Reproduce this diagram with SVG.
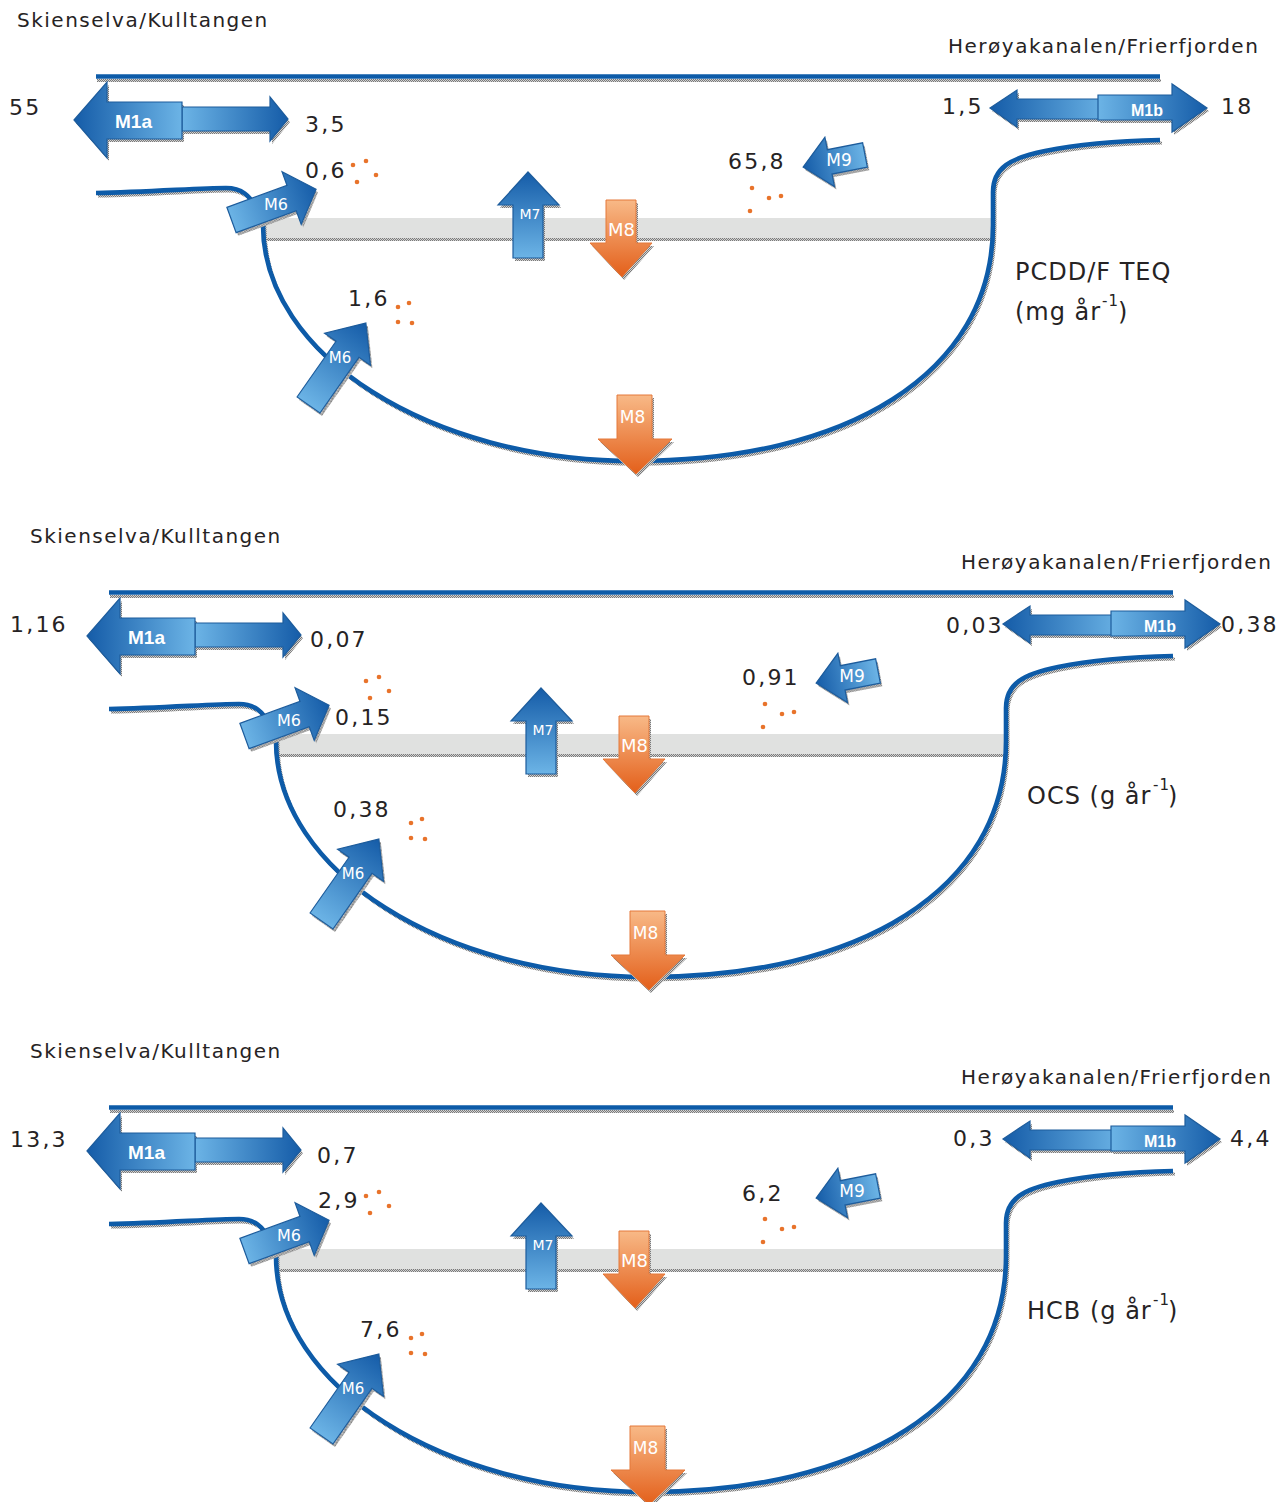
<svg xmlns="http://www.w3.org/2000/svg" xmlns:xlink="http://www.w3.org/1999/xlink" width="1287" height="1502" viewBox="0 0 1287 1502">
<style>
.ln{fill:none;stroke:#0d5ba8;stroke-width:4.6;stroke-linejoin:round;stroke-linecap:butt}
.lns{fill:none;stroke:url(#chk);stroke-width:3}
.sh{fill:url(#chk);stroke:none}
.ab{stroke:#1d5c9c;stroke-width:1.2}
.ao{stroke:#e4783a;stroke-width:1}
.t{font-family:"DejaVu Sans","Liberation Sans",sans-serif;fill:#262324}
.hdr{font-size:20px;letter-spacing:1.5px}
.num{font-size:22px;letter-spacing:2.2px}
.unit{font-size:24px;letter-spacing:1px}
.sup{font-size:15px}
.lb{font-family:"DejaVu Sans",sans-serif;fill:#fff;text-anchor:middle}
.lbb{font-family:"Liberation Sans",Arial,sans-serif;font-weight:bold;fill:#fff;text-anchor:middle}
.dot{fill:#e8732b}
</style>
<defs>
<pattern id="chk" width="2" height="2" patternUnits="userSpaceOnUse"><rect width="2" height="2" fill="#d2d2d2"/><rect width="1" height="1" fill="#7a7a7a"/><rect x="1" y="1" width="1" height="1" fill="#7a7a7a"/></pattern>
<linearGradient id="gB" x1="0" y1="0" x2="1" y2="0"><stop offset="0" stop-color="#6cb4e6"/><stop offset="1" stop-color="#155ca8"/></linearGradient>
<linearGradient id="gBL" x1="1" y1="0" x2="0" y2="0"><stop offset="0" stop-color="#6cb4e6"/><stop offset="1" stop-color="#155ca8"/></linearGradient>
<linearGradient id="gBU" x1="0" y1="1" x2="0" y2="0"><stop offset="0" stop-color="#6cb4e6"/><stop offset="1" stop-color="#155ca8"/></linearGradient>
<linearGradient id="gO" x1="0" y1="0" x2="0" y2="1"><stop offset="0" stop-color="#f8b987"/><stop offset="1" stop-color="#e35f1a"/></linearGradient>

<polygon id="s-m1a-r" points="182,107 270,107 270,97 288,119 270,141 270,131 182,131"/>
<polygon id="s-m1a-l" points="74,120 107,82 107,102 182,102 182,139 107,139 107,158"/>
<polygon id="s-m1b-l" points="990,108 1017,90 1017,99 1110,99 1110,119 1017,119 1017,127"/>
<polygon id="s-m1b-r" points="1098,95 1172,95 1172,84 1207,108 1172,132 1172,120 1098,120"/>
<polygon id="s-m6a" transform="translate(231.5,220) rotate(-20)" points="0,-13.5 64,-13.5 64,-28 90,0 64,28 64,13.5 0,13.5"/>
<polygon id="s-m6b" transform="translate(308.5,405) rotate(-55)" points="0,-14 68,-14 68,-28 100,0 68,28 68,14 0,14"/>
<polygon id="s-m7" points="513,258 543,258 543,205 559,205 528,172 498,205 513,205"/>
<polygon id="s-m8a" points="606,200 636,200 636,243 652,243 622,277 590,243 606,243"/>
<polygon id="s-m8b" points="617,395 652,395 652,439 672,439 636,474 598,439 617,439"/>
<polygon id="s-m9" transform="translate(865,155) rotate(169)" points="0,-12.4 36,-12.4 36,-25 63,0 36,25 36,12.4 0,12.4"/>

<path id="s-water" d="M96,193 C150,192 200,188 226,188 C242,188 250,196 256,208 C260,216 263,220 263,225 C263,355 430,461 635,461 C845,461 993,375 993,225 L993,192 C993,168 1010,158 1045,151 C1080,144 1120,141 1160,140"/>

<g id="base">
  <path class="lns" d="M97,80.5 H1161"/>
  <path class="ln" d="M96,76.5 H1160"/>
  <rect x="265" y="238" width="728" height="3" fill="url(#chk)"/>
  <rect x="263" y="218" width="730" height="20" fill="#e0e1e0"/>
  <use xlink:href="#s-water" class="lns" transform="translate(2,3)"/>
  <use xlink:href="#s-water" class="ln"/>
  <g id="dots">
    <circle class="dot" cx="353" cy="165" r="2.3"/><circle class="dot" cx="366" cy="161" r="2.3"/><circle class="dot" cx="376" cy="175" r="2.3"/><circle class="dot" cx="357" cy="182" r="2.3"/>
    <circle class="dot" cx="752" cy="188" r="2.3"/><circle class="dot" cx="769" cy="198" r="2.3"/><circle class="dot" cx="781" cy="196" r="2.3"/><circle class="dot" cx="750" cy="211" r="2.3"/>
    <circle class="dot" cx="398" cy="307" r="2.3"/><circle class="dot" cx="409" cy="303" r="2.3"/><circle class="dot" cx="398" cy="322" r="2.3"/><circle class="dot" cx="412" cy="323" r="2.3"/>
  </g>
</g>

<g id="a-m1a">
  <use xlink:href="#s-m1a-r" class="sh" transform="translate(2,3)"/>
  <use xlink:href="#s-m1a-l" class="sh" transform="translate(2,3)"/>
  <use xlink:href="#s-m1a-r" class="ab" fill="url(#gB)"/>
  <use xlink:href="#s-m1a-l" class="ab" fill="url(#gBL)"/>
</g>
<g id="a-m1b">
  <use xlink:href="#s-m1b-l" class="sh" transform="translate(2,3)"/>
  <use xlink:href="#s-m1b-r" class="sh" transform="translate(2,3)"/>
  <use xlink:href="#s-m1b-l" class="ab" fill="url(#gBL)"/>
  <use xlink:href="#s-m1b-r" class="ab" fill="url(#gB)"/>
</g>
<g id="a-m6a">
  <use xlink:href="#s-m6a" class="sh" transform="translate(2,3)"/>
  <use xlink:href="#s-m6a" class="ab" fill="url(#gB)"/>
</g>
<g id="a-m6b">
  <use xlink:href="#s-m6b" class="sh" transform="translate(2,3)"/>
  <use xlink:href="#s-m6b" class="ab" fill="url(#gB)"/>
</g>
<g id="a-m7">
  <use xlink:href="#s-m7" class="sh" transform="translate(2,3)"/>
  <use xlink:href="#s-m7" class="ab" fill="url(#gBU)"/>
</g>
<g id="a-m8a">
  <use xlink:href="#s-m8a" class="sh" transform="translate(2,3)"/>
  <use xlink:href="#s-m8a" class="ao" fill="url(#gO)"/>
</g>
<g id="a-m8b">
  <use xlink:href="#s-m8b" class="sh" transform="translate(2,3)"/>
  <use xlink:href="#s-m8b" class="ao" fill="url(#gO)"/>
</g>
<g id="a-m9">
  <use xlink:href="#s-m9" class="sh" transform="translate(2,3)"/>
  <use xlink:href="#s-m9" class="ab" fill="url(#gB)"/>
</g>
</defs>

<rect width="1287" height="1502" fill="#ffffff"/>

<!-- Panel 1: PCDD/F TEQ -->
<g id="panel1">
  <g id="p1-connectors"><use xlink:href="#base"/></g>
  <g id="p1-m1a"><use xlink:href="#a-m1a"/><text class="lbb" x="133.5" y="128" font-size="19">M1a</text></g>
  <g id="p1-m1b"><use xlink:href="#a-m1b"/><text class="lbb" x="1147" y="116" font-size="16">M1b</text></g>
  <g id="p1-m6a"><use xlink:href="#a-m6a"/><text class="lb" x="276" y="210" font-size="16">M6</text></g>
  <g id="p1-m7"><use xlink:href="#a-m7"/><text class="lb" x="530" y="219" font-size="14">M7</text></g>
  <g id="p1-m8a"><use xlink:href="#a-m8a"/><text class="lb" x="621.5" y="236" font-size="18">M8</text></g>
  <g id="p1-m9"><use xlink:href="#a-m9"/><text class="lb" x="839" y="166" font-size="17">M9</text></g>
  <g id="p1-m6b"><use xlink:href="#a-m6b"/><text class="lb" x="340" y="363" font-size="15">M6</text></g>
  <g id="p1-m8b"><use xlink:href="#a-m8b"/><text class="lb" x="632.5" y="423" font-size="17">M8</text></g>
  <g id="p1-text">
    <text class="t hdr" x="17" y="27">Skienselva/Kulltangen</text>
    <text class="t hdr" x="948" y="53">Herøyakanalen/Frierfjorden</text>
    <text class="t num" x="9" y="115">55</text>
    <text class="t num" x="305" y="132">3,5</text>
    <text class="t num" x="305" y="178">0,6</text>
    <text class="t num" x="728" y="169">65,8</text>
    <text class="t num" x="942" y="114">1,5</text>
    <text class="t num" x="1221" y="114">18</text>
    <text class="t num" x="348" y="306">1,6</text>
    <text class="t unit" x="1015" y="280">PCDD/F TEQ</text>
    <text class="t unit" x="1015" y="320">(mg år<tspan class="sup" x="1102" y="306">-1</tspan><tspan x="1118" y="320">)</tspan></text>
  </g>
</g>

<!-- Panel 2: OCS -->
<g id="panel2" transform="translate(13,516)">
  <g id="p2-connectors"><use xlink:href="#base"/></g>
  <g id="p2-m1a"><use xlink:href="#a-m1a"/><text class="lbb" x="133.5" y="128" font-size="19">M1a</text></g>
  <g id="p2-m1b"><use xlink:href="#a-m1b"/><text class="lbb" x="1147" y="116" font-size="16">M1b</text></g>
  <g id="p2-m6a"><use xlink:href="#a-m6a"/><text class="lb" x="276" y="210" font-size="16">M6</text></g>
  <g id="p2-m7"><use xlink:href="#a-m7"/><text class="lb" x="530" y="219" font-size="14">M7</text></g>
  <g id="p2-m8a"><use xlink:href="#a-m8a"/><text class="lb" x="621.5" y="236" font-size="18">M8</text></g>
  <g id="p2-m9"><use xlink:href="#a-m9"/><text class="lb" x="839" y="166" font-size="17">M9</text></g>
  <g id="p2-m6b"><use xlink:href="#a-m6b"/><text class="lb" x="340" y="363" font-size="15">M6</text></g>
  <g id="p2-m8b"><use xlink:href="#a-m8b"/><text class="lb" x="632.5" y="423" font-size="17">M8</text></g>
  <g id="p2-text">
    <text class="t hdr" x="17" y="27">Skienselva/Kulltangen</text>
    <text class="t hdr" x="948" y="53">Herøyakanalen/Frierfjorden</text>
    <text class="t num" x="-3" y="116">1,16</text>
    <text class="t num" x="297" y="131">0,07</text>
    <text class="t num" x="322" y="209">0,15</text>
    <text class="t num" x="729" y="169">0,91</text>
    <text class="t num" x="933" y="117">0,03</text>
    <text class="t num" x="1208" y="116">0,38</text>
    <text class="t num" x="320" y="301">0,38</text>
    <text class="t unit" x="1014" y="288">OCS (g år<tspan class="sup" x="1140" y="274">-1</tspan><tspan x="1155" y="288">)</tspan></text>
  </g>
</g>

<!-- Panel 3: HCB -->
<g id="panel3" transform="translate(13,1031)">
  <g id="p3-connectors"><use xlink:href="#base"/></g>
  <g id="p3-m1a"><use xlink:href="#a-m1a"/><text class="lbb" x="133.5" y="128" font-size="19">M1a</text></g>
  <g id="p3-m1b"><use xlink:href="#a-m1b"/><text class="lbb" x="1147" y="116" font-size="16">M1b</text></g>
  <g id="p3-m6a"><use xlink:href="#a-m6a"/><text class="lb" x="276" y="210" font-size="16">M6</text></g>
  <g id="p3-m7"><use xlink:href="#a-m7"/><text class="lb" x="530" y="219" font-size="14">M7</text></g>
  <g id="p3-m8a"><use xlink:href="#a-m8a"/><text class="lb" x="621.5" y="236" font-size="18">M8</text></g>
  <g id="p3-m9"><use xlink:href="#a-m9"/><text class="lb" x="839" y="166" font-size="17">M9</text></g>
  <g id="p3-m6b"><use xlink:href="#a-m6b"/><text class="lb" x="340" y="363" font-size="15">M6</text></g>
  <g id="p3-m8b"><use xlink:href="#a-m8b"/><text class="lb" x="632.5" y="423" font-size="17">M8</text></g>
  <g id="p3-text">
    <text class="t hdr" x="17" y="27">Skienselva/Kulltangen</text>
    <text class="t hdr" x="948" y="53">Herøyakanalen/Frierfjorden</text>
    <text class="t num" x="-3" y="116">13,3</text>
    <text class="t num" x="304" y="132">0,7</text>
    <text class="t num" x="305" y="177">2,9</text>
    <text class="t num" x="729" y="170">6,2</text>
    <text class="t num" x="940" y="115">0,3</text>
    <text class="t num" x="1217" y="115">4,4</text>
    <text class="t num" x="347" y="306">7,6</text>
    <text class="t unit" x="1014" y="288">HCB (g år<tspan class="sup" x="1140" y="274">-1</tspan><tspan x="1155" y="288">)</tspan></text>
  </g>
</g>
</svg>
